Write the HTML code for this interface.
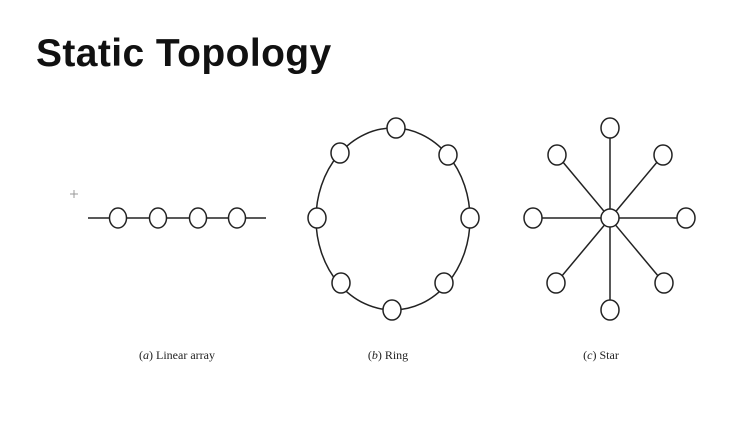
<html><body style="margin:0;background:#fff;width:755px;height:435px;overflow:hidden;position:relative">
<div style="position:absolute;left:36px;top:32px;font:bold 39px 'Liberation Sans',sans-serif;color:#111;letter-spacing:0.4px">Static Topology</div>
<svg width="755" height="435" style="position:absolute;left:0;top:0" fill="#fff" stroke="#222" stroke-width="1.5">
<line x1="88" y1="218" x2="266" y2="218"/>
<ellipse cx="118" cy="218" rx="8.5" ry="10"/><ellipse cx="158" cy="218" rx="8.5" ry="10"/><ellipse cx="198" cy="218" rx="8.5" ry="10"/><ellipse cx="237" cy="218" rx="8.5" ry="10"/>
<ellipse cx="393" cy="219" rx="77" ry="91" fill="none"/>
<g>
<ellipse cx="396" cy="128" rx="9" ry="10"/><ellipse cx="340" cy="153" rx="9" ry="10"/><ellipse cx="448" cy="155" rx="9" ry="10"/><ellipse cx="317" cy="218" rx="9" ry="10"/><ellipse cx="470" cy="218" rx="9" ry="10"/><ellipse cx="341" cy="283" rx="9" ry="10"/><ellipse cx="444" cy="283" rx="9" ry="10"/><ellipse cx="392" cy="310" rx="9" ry="10"/>
</g>
<g>
<line x1="610" y1="128" x2="610" y2="310"/><line x1="533" y1="218" x2="686" y2="218"/><line x1="557" y1="155" x2="664" y2="283"/><line x1="663" y1="155" x2="556" y2="283"/>
<ellipse cx="610" cy="128" rx="9" ry="10"/><ellipse cx="557" cy="155" rx="9" ry="10"/><ellipse cx="663" cy="155" rx="9" ry="10"/><ellipse cx="533" cy="218" rx="9" ry="10"/><ellipse cx="686" cy="218" rx="9" ry="10"/><ellipse cx="556" cy="283" rx="9" ry="10"/><ellipse cx="664" cy="283" rx="9" ry="10"/><ellipse cx="610" cy="310" rx="9" ry="10"/><ellipse cx="610" cy="218" rx="9" ry="9"/>
</g>
<g fill="#222" stroke="none" font-family="Liberation Serif,serif" font-size="12" text-anchor="middle">
<text x="177" y="359">(<tspan font-style="italic">a</tspan>) Linear array</text>
<text x="388" y="359">(<tspan font-style="italic">b</tspan>) Ring</text>
<text x="601" y="359">(<tspan font-style="italic">c</tspan>) Star</text>
</g>
<g stroke="#999" stroke-width="1"><line x1="70" y1="194" x2="78" y2="194"/><line x1="74" y1="190" x2="74" y2="198"/></g>
</svg>
</body></html>
